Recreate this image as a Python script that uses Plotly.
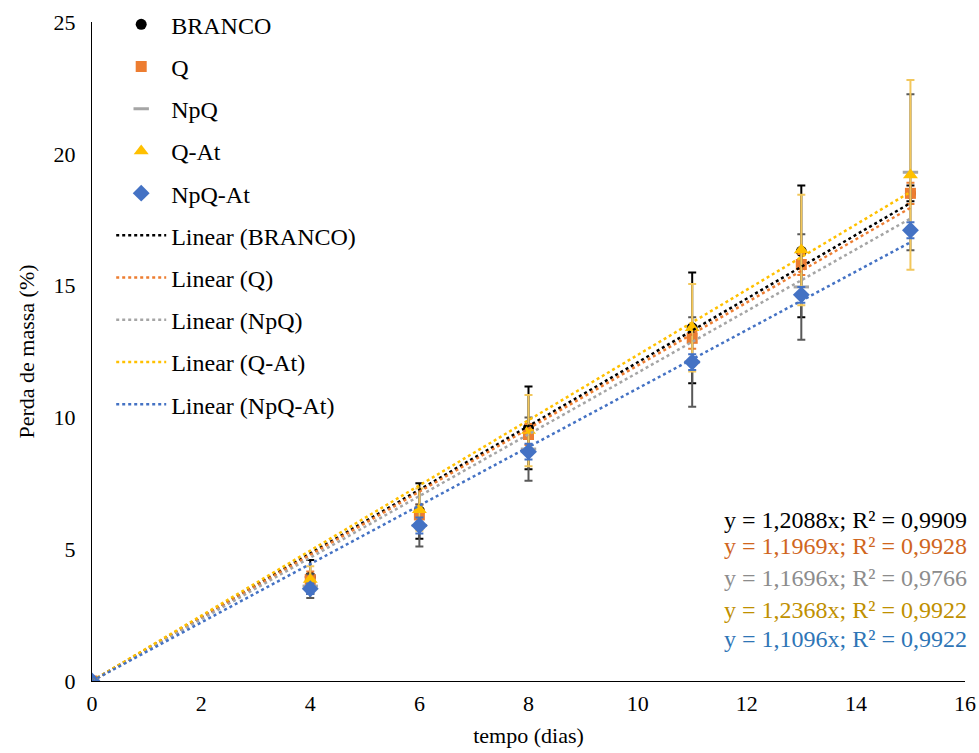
import plotly.graph_objects as go

# Sampling days
dias = [0, 4, 6, 8, 11, 13, 15]

# Mass loss (%) per treatment and its standard deviation
branco = [0, 3.95, 6.45, 9.6, 13.4, 16.3, 18.5]
branco_sd = [0, 0.64, 1.05, 1.57, 2.1, 2.5, 0.3]
q = [0, 3.85, 6.3, 9.35, 13.0, 15.8, 18.5]
q_sd = [0, 0.3, 0.4, 0.4, 0.4, 0.4, 0.4]
npq = [0, 3.6, 5.9, 8.8, 12.1, 14.95, 19.3]
npq_sd = [0, 0.45, 0.8, 1.2, 1.7, 2.0, 2.96]
q_at = [0, 3.85, 6.5, 9.5, 13.4, 16.35, 19.2]
q_at_sd = [0, 0.5, 0.8, 1.35, 1.66, 2.1, 3.6]
npq_at = [0, 3.5, 5.9, 8.7, 12.1, 14.65, 17.1]
npq_at_sd = [0, 0.2, 0.3, 0.3, 0.3, 0.3, 0.3]

# Linear fits through the origin (slope, R²)
nomes = ["BRANCO", "Q", "NpQ", "Q-At", "NpQ-At"]
inclinacoes = [1.2088, 1.1969, 1.1696, 1.2368, 1.1096]
r2 = ["0,9909", "0,9928", "0,9766", "0,9922", "0,9922"]

cores = ["#000000", "#ED7D31", "#A5A5A5", "#FFC000", "#4472C4"]
cores_erro = ["#000000", "#ED7D31", "#595959", "#F2C75C", "#4472C4"]
cores_eq = ["#000000", "#D0661E", "#8C8C8C", "#BF9000", "#2E75B6"]

series = [branco, q, npq, q_at, npq_at]
desvios = [branco_sd, q_sd, npq_sd, q_at_sd, npq_at_sd]
marcadores = [
    dict(symbol="circle", size=11),
    dict(symbol="square", size=11),
    dict(symbol="line-ew", size=11, line=dict(width=3, color="#A5A5A5")),
    dict(symbol="triangle-up", size=13),
    dict(symbol="diamond", size=13),
]

FONTE = "Liberation Serif, Times New Roman, serif"

fig = go.Figure()

for i, nome in enumerate(nomes):
    m = dict(marcadores[i])
    m["color"] = cores[i]
    fig.add_trace(go.Scatter(
        x=dias, y=series[i], mode="markers", name=nome,
        legendgroup=nome, marker=m,
        error_y=dict(type="data", array=desvios[i], visible=True,
                     color=cores_erro[i], thickness=2, width=4),
    ))

x_fim = [0, max(dias)]
for i, nome in enumerate(nomes):
    fig.add_trace(go.Scatter(
        x=x_fim, y=[inclinacoes[i] * v for v in x_fim], mode="lines",
        name=f"Linear ({nome})", legendgroup=f"lin-{nome}",
        line=dict(color=cores[i], width=2.5, dash="dot"),
    ))

# Fit equations, stacked in the lower-right corner
ys_eq = [0.244, 0.205, 0.156, 0.108, 0.063]
for i in range(len(nomes)):
    coef = f"{inclinacoes[i]:.4f}".replace(".", ",")
    fig.add_annotation(
        x=1.0, y=ys_eq[i], xref="paper", yref="paper", xshift=4,
        xanchor="right", yanchor="middle", showarrow=False,
        text=f"y = {coef}x; R² = {r2[i]}",
        font=dict(family=FONTE, size=24, color=cores_eq[i]),
    )

fig.update_layout(
    width=979, height=753,
    margin=dict(l=92, r=14, t=22, b=72, autoexpand=False),
    plot_bgcolor="white", paper_bgcolor="white",
    font=dict(family=FONTE, size=22, color="#000000"),
    showlegend=True,
    legend=dict(
        x=0.022, y=1.03, xanchor="left", yanchor="top",
        font=dict(family=FONTE, size=24, color="#000000"),
        tracegroupgap=8, itemwidth=50, bgcolor="rgba(0,0,0,0)",
        maxheight=1.0,
    ),
    xaxis=dict(
        range=[0, 16], dtick=2, tick0=0, showgrid=False, zeroline=False,
        showline=True, linecolor="#000000", linewidth=1, ticks="",
        ticklabelstandoff=3, automargin=False,
        title=dict(text="tempo (dias)", font=dict(family=FONTE, size=22), standoff=12),
        tickfont=dict(family=FONTE, size=22),
    ),
    yaxis=dict(
        range=[0, 25], dtick=5, tick0=0, showgrid=False, zeroline=False,
        showline=True, linecolor="#000000", linewidth=1, ticks="",
        ticklabelstandoff=11, automargin=False,
        title=dict(text="Perda de massa (%)", font=dict(family=FONTE, size=22), standoff=12),
        tickfont=dict(family=FONTE, size=22),
    ),
)

fig.write_html("out.html")
